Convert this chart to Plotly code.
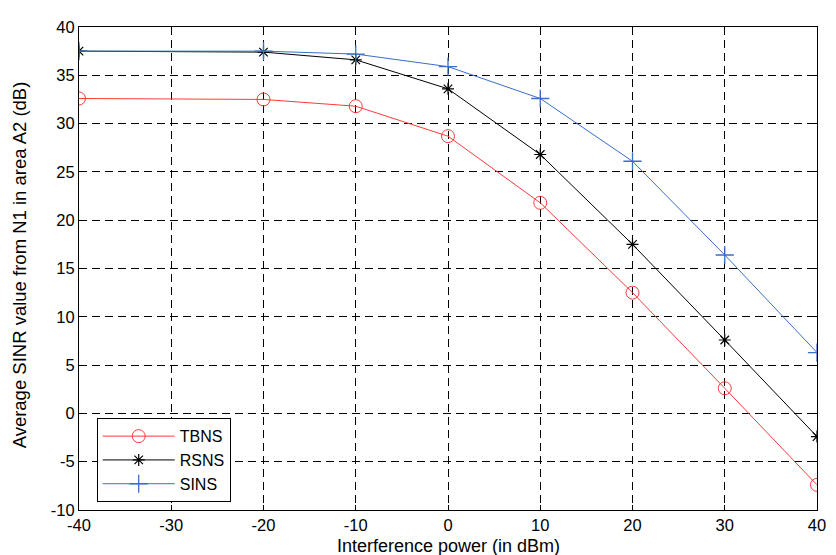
import plotly.graph_objects as go

x_vals = [-40, -20, -10, 0, 10, 20, 30, 40]
tbns = [32.6, 32.5, 31.8, 28.7, 21.8, 12.5, 2.6, -7.4]
rsns = [37.5, 37.4, 36.6, 33.6, 26.8, 17.5, 7.6, -2.4]
sins = [37.5, 37.5, 37.2, 35.9, 32.6, 26.1, 16.4, 6.3]

x_ticks = [-40, -30, -20, -10, 0, 10, 20, 30, 40]
x_ticktext = ["-40", "-30", "-20", "-10", "0", "10", "20", "30", "40"]
y_ticks = [-10, -5, 0, 5, 10, 15, 20, 25, 30, 35, 40]
y_ticktext = ["-10", "-5", "0", "5", "10", "15", "20", "25", "30", "35", "40"]

x_title = "Interference power (in dBm)"
y_title = "Average SINR value from N1 in area A2 (dB)"

fig = go.Figure()
fig.add_trace(go.Scatter(x=x_vals, y=tbns, name="TBNS", mode="lines+markers",
                         line=dict(color="#ff3b3b", width=1),
                         marker=dict(symbol="circle-open", size=13, color="#ff3b3b", line=dict(width=1))))
fig.add_trace(go.Scatter(x=x_vals, y=rsns, name="RSNS", mode="lines+markers",
                         line=dict(color="#000000", width=1),
                         marker=dict(symbol="asterisk-open", size=10, color="#000000", line=dict(width=1.2))))
fig.add_trace(go.Scatter(x=x_vals, y=sins, name="SINS", mode="lines+markers",
                         line=dict(color="#3a6ec8", width=1),
                         marker=dict(symbol="cross-thin-open", size=13, color="#3a6ec8", line=dict(width=1.3))))

axis_common = dict(showline=True, linecolor="black", linewidth=1, mirror="ticks",
                   ticks="inside", ticklen=5, tickcolor="black",
                   showgrid=True, gridcolor="black", griddash="8px,5px", gridwidth=1,
                   zeroline=False, tickfont=dict(size=16.5, color="black"))

fig.update_xaxes(range=[-40, 40], tickvals=x_ticks, ticktext=x_ticktext, **axis_common)
fig.update_yaxes(range=[-10, 40], tickvals=y_ticks, ticktext=y_ticktext, **axis_common)

fig.add_annotation(text=x_title, xref="paper", yref="paper", x=0.5, y=-0.0735,
                   xanchor="center", yanchor="middle", showarrow=False,
                   font=dict(size=18, color="black"))
fig.add_annotation(text=y_title, xref="paper", yref="paper", x=-0.0803, y=0.508,
                   xanchor="center", yanchor="middle", textangle=-90, showarrow=False,
                   font=dict(size=18.5, color="black"))

# the page body adds an 8px offset; size the figure so it fits the 836x555 window
fig.update_layout(
    width=828, height=547,
    margin=dict(l=71, r=10, t=12, b=45),
    paper_bgcolor="white", plot_bgcolor="white",
    font=dict(family="Liberation Sans, Arial, sans-serif", color="black"),
    legend=dict(x=0.024, y=0.19, xanchor="left", yanchor="top",
                bgcolor="white", bordercolor="black", borderwidth=1,
                font=dict(size=16, color="black"), tracegroupgap=0, itemwidth=72),
    showlegend=True,
)

fig.write_html("out.html")
